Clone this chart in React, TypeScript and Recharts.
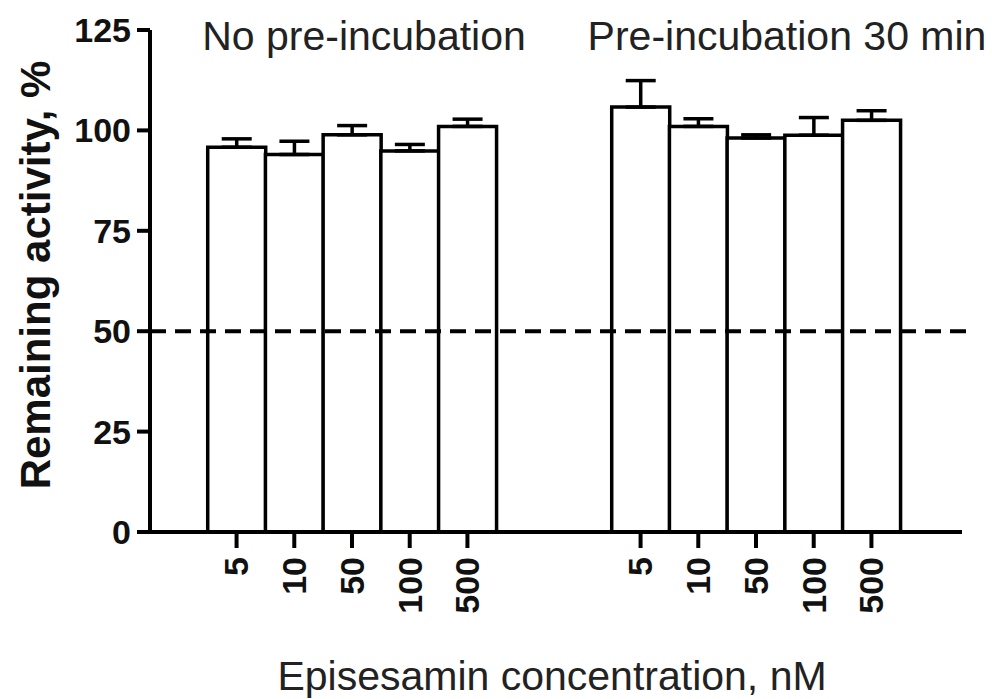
import React from 'react';
import { BarChart, Bar, XAxis, YAxis, ErrorBar, ReferenceLine } from 'recharts';

const categories = ['', '5', '10', '50', '100', '500', '', '', '5', '10', '50', '100', '500', ''];
const activity: (number | null)[] = [null, 95.8, 94.0, 98.9, 94.9, 101.0, null, null, 105.8, 101.0, 98.1, 98.8, 102.5, null];
const errorUp: (number | null)[] = [null, 2.1, 3.3, 2.3, 1.6, 1.8, null, null, 6.6, 1.9, 0.8, 4.4, 2.4, null];
const yTicks = [0, 25, 50, 75, 100, 125];
const groupTitles = ['No pre-incubation', 'Pre-incubation 30 min'];
const threshold = 50;

const data = categories.map((c, i) => ({
  idx: i,
  label: c,
  value: activity[i],
  err: errorUp[i] == null ? null : [0, errorUp[i] as number],
}));

const FONT = '"Liberation Sans", Arial, Helvetica, sans-serif';

const XTick = (props: any) => {
  const { x, y, payload } = props;
  const label = categories[payload.value];
  if (!label) return null;
  return (
    <g>
      <line x1={x} x2={x} y1={y} y2={y + 16} stroke="#000" strokeWidth={4} />
      <text
        x={x}
        y={y + 25}
        transform={`rotate(-90, ${x}, ${y + 25})`}
        textAnchor="end"
        dy="0.35em"
        fontSize={34}
        fontWeight="bold"
        fontFamily={FONT}
        fill="#111"
      >
        {label}
      </text>
    </g>
  );
};

const YLabel = (props: any) => {
  const { viewBox } = props;
  const cx = 50;
  const cy = viewBox.y + viewBox.height / 2 - 6;
  return (
    <text
      x={cx}
      y={cy}
      transform={`rotate(-90, ${cx}, ${cy})`}
      textAnchor="middle"
      fontSize={42}
      fontWeight="bold"
      fontFamily={FONT}
      fill="#111"
    >
      Remaining activity, %
    </text>
  );
};

const XLabel = (props: any) => {
  const { viewBox } = props;
  return (
    <text
      x={viewBox.x + viewBox.width / 2 - 4}
      y={690}
      textAnchor="middle"
      fontSize={41}
      fontFamily={FONT}
      fill="#222"
    >
      Episesamin concentration, nM
    </text>
  );
};

const DashShape = (props: any) => {
  const { x1, x2, y1, y2 } = props;
  return <line x1={x1} x2={x2 + 7} y1={y1} y2={y2} stroke="#000" strokeWidth={4} strokeDasharray="16 9" />;
};

export default function App() {
  return (
    <div style={{ position: 'absolute', left: 0, top: 0, width: 992, height: 699, background: '#fff' }}>
      <BarChart
        width={992}
        height={699}
        data={data}
        margin={{ top: 30, right: 30, left: 0, bottom: 0 }}
        barCategoryGap={0}
        barGap={0}
      >
        <XAxis
          dataKey="idx"
          type="category"
          interval={0}
          height={167}
          padding={{ left: 0, right: 4 }}
          axisLine={{ stroke: '#000', strokeWidth: 4 }}
          tickLine={false}
          tickSize={0}
          tickMargin={0}
          tick={<XTick />}
          label={{ content: <XLabel /> }}
        />
        <YAxis
          width={150}
          domain={[0, 125]}
          ticks={yTicks}
          interval={0}
          axisLine={{ stroke: '#000', strokeWidth: 4 }}
          tickLine={{ stroke: '#000', strokeWidth: 4 }}
          tickSize={13}
          tickMargin={6}
          tick={{ fontSize: 34, fontWeight: 'bold', fill: '#111', fontFamily: FONT }}
          label={{ content: <YLabel /> }}
        />
        <Bar dataKey="value" fill="#fff" stroke="#000" strokeWidth={3.5} isAnimationActive={false}>
          <ErrorBar dataKey="err" direction="y" width={15} stroke="#000" strokeWidth={3.5} />
        </Bar>
        <ReferenceLine y={threshold} shape={<DashShape />} />
        <text x={364} y={50} textAnchor="middle" fontSize={41} fontFamily={FONT} fill="#222">
          {groupTitles[0]}
        </text>
        <text x={787} y={50} textAnchor="middle" fontSize={41} fontFamily={FONT} fill="#222">
          {groupTitles[1]}
        </text>
      </BarChart>
    </div>
  );
}
